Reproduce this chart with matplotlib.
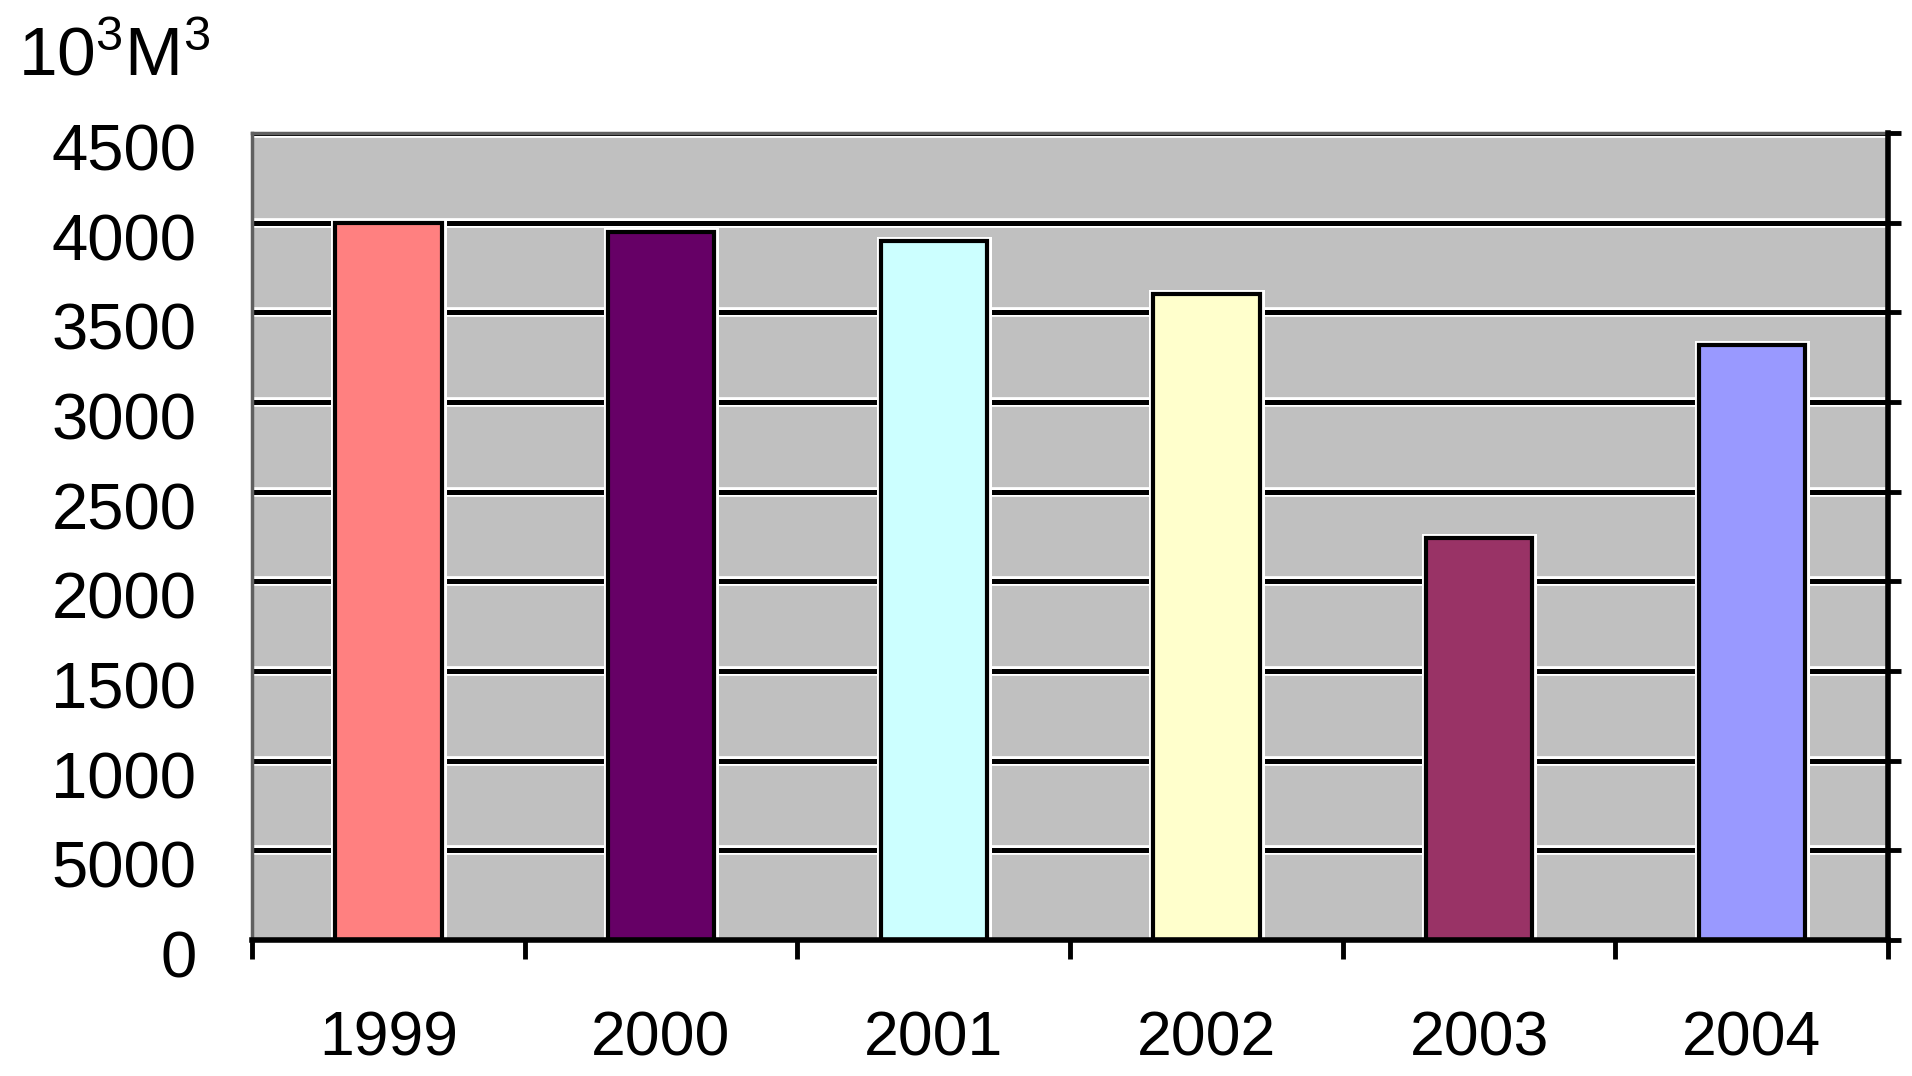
import matplotlib.pyplot as plt
import matplotlib.transforms as mtransforms
import numpy as np

years = ['1999', '2000', '2001', '2002', '2003', '2004']
volumes = [4000, 3950, 3900, 3600, 2240, 3320]
bar_colors = ['#FF8080', '#660066', '#CCFFFF', '#FFFFCC', '#993366', '#9999FF']
y_ticks = [0, 500, 1000, 1500, 2000, 2500, 3000, 3500, 4000, 4500]
y_labels = ['0', '5000', '1000', '1500', '2000', '2500', '3000', '3500', '4000', '4500']

plt.rcParams['font.family'] = ['Liberation Sans', 'DejaVu Sans']
plt.rcParams['mathtext.fontset'] = 'custom'
plt.rcParams['mathtext.rm'] = 'Liberation Sans'
plt.rcParams['mathtext.it'] = 'Liberation Sans'

fig = plt.figure(figsize=(19.12, 10.76), dpi=100)
ax = fig.add_axes([0.1318, 0.1264, 0.9875 - 0.1318, 0.8764 - 0.1264])
ax.set_facecolor('#C0C0C0')

x = np.arange(len(years))
ax.set_xlim(-0.5, len(years) - 0.5)
ax.set_ylim(0, 4500)

# gridlines: white halo under black line
for v in y_ticks[1:]:
    ax.axhline(v, color='white', lw=7, zorder=1)
    ax.axhline(v, color='black', lw=3.6, zorder=2)

# bars with the same halo look
ax.bar(x, volumes, width=0.39, color=bar_colors, edgecolor='white', linewidth=6.5, zorder=3)
ax.bar(x, volumes, width=0.39, color=bar_colors, edgecolor='black', linewidth=3, zorder=4)

# y axis labels on the left, ticks on the right spine
ax.set_yticks(y_ticks)
ax.set_yticklabels(y_labels, fontsize=47)
ax.tick_params(axis='y', which='both', left=False, right=True, direction='out',
               length=9, width=3.5, pad=31)
offset = mtransforms.ScaledTranslation(0, -0.14, fig.dpi_scale_trans)
for lbl in ax.get_yticklabels():
    lbl.set_transform(lbl.get_transform() + offset)

# x axis: labels at centres, ticks at boundaries
ax.set_xticks(x)
ax.set_xticklabels(years, fontsize=45)
ax.set_xticks(np.arange(-0.5, len(years)), minor=True)
ax.tick_params(axis='x', which='major', length=0, pad=50)
ax.tick_params(axis='x', which='minor', length=14, width=3.5, direction='out')

for side in ['bottom', 'right']:
    ax.spines[side].set_color('black')
    ax.spines[side].set_linewidth(4)
    ax.spines[side].set_zorder(6)
for side in ['top', 'left']:
    ax.spines[side].set_color('#606060')
    ax.spines[side].set_linewidth(2.5)

fig.text(18 / 1912, 1 - 75 / 1076, r'10$^{3}$M$^{3}$', fontsize=50, ha='left', va='baseline')

fig.savefig('out.png', dpi=100)
